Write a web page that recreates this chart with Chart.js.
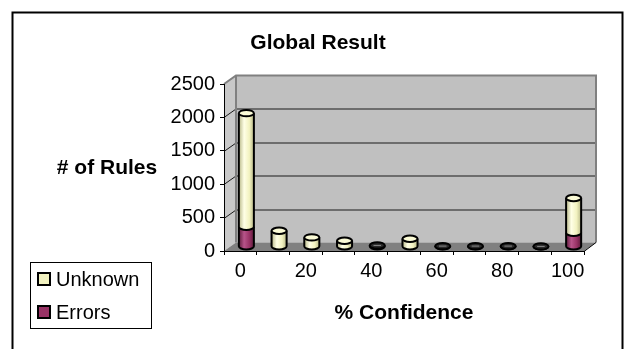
<!DOCTYPE html>
<html>
<head>
<meta charset="utf-8">
<script src="https://cdn.jsdelivr.net/npm/chart.js@4.4.1/dist/chart.umd.min.js"></script>
<style>
  html, body { margin: 0; padding: 0; background: #fff; }
  #wrap { width: 625px; height: 349px; }
</style>
</head>
<body>
<div id="wrap"><canvas id="c" width="625" height="349"></canvas></div>
<script>
// Confidence buckets (%) and rule counts per bucket
const categories = ['0', '10', '20', '30', '40', '50', '60', '70', '80', '90', '100'];
const errors  = [300, 0, 0, 0, 0, 0, 0, 0, 0, 0, 210];
const unknown = [1700, 240, 140, 90, 20, 120, 10, 10, 10, 5, 520];
const shownXLabels = ['0', '20', '40', '60', '80', '100'];
const yMin = 0, yMax = 2500, yStep = 500;

const FONT = '"Liberation Sans", Arial, Helvetica, sans-serif';
// depth of the 3D box (back wall offset from the front plane)
const DEPTH_X = 12, DEPTH_Y = -8.5;

const palette = {
  unknown: { base: '#f2f2c0', light: '#ffffe6', dark: '#b8b888', cap: '#fbfbd6' },
  errors:  { base: '#993366', light: '#b8548a', dark: '#5e1c3c', cap: '#a84474' }
};

// white page, outer frame, and the 3D walls/floor with gridlines
const backdrop = {
  id: 'backdrop',
  beforeDraw(chart) {
    const ctx = chart.ctx;
    const a = chart.chartArea;
    const ys = chart.scales.y;
    ctx.save();
    ctx.fillStyle = '#fff';
    ctx.fillRect(0, 0, chart.width, chart.height);
    ctx.strokeStyle = '#000';
    ctx.lineWidth = 2;
    ctx.strokeRect(12.5, 12.5, 610, 360);

    const L = a.left, R = a.right, T = a.top, B = a.bottom;
    // back wall
    ctx.fillStyle = '#c0c0c0';
    ctx.fillRect(L + DEPTH_X, T + DEPTH_Y, R - L, B - T);
    // side wall
    ctx.fillStyle = '#c8c8c8';
    ctx.beginPath();
    ctx.moveTo(L, T); ctx.lineTo(L + DEPTH_X, T + DEPTH_Y);
    ctx.lineTo(L + DEPTH_X, B + DEPTH_Y); ctx.lineTo(L, B);
    ctx.closePath(); ctx.fill();
    // floor
    ctx.fillStyle = '#808080';
    ctx.beginPath();
    ctx.moveTo(L, B); ctx.lineTo(L + DEPTH_X, B + DEPTH_Y);
    ctx.lineTo(R + DEPTH_X, B + DEPTH_Y); ctx.lineTo(R, B);
    ctx.closePath(); ctx.fill();

    // gridlines on back and side walls
    ctx.strokeStyle = '#1a1a1a';
    ctx.lineWidth = 1;
    for (let v = yMin + yStep; v < yMax; v += yStep) {
      const y = Math.round(ys.getPixelForValue(v)) + 0.5;
      ctx.beginPath();
      ctx.moveTo(L, y);
      ctx.lineTo(L + DEPTH_X, y + DEPTH_Y);
      ctx.lineTo(R + DEPTH_X, y + DEPTH_Y);
      ctx.stroke();
    }
    // wall edges
    ctx.strokeStyle = '#808080';
    ctx.lineWidth = 2;
    ctx.beginPath();
    ctx.moveTo(L, T); ctx.lineTo(L + DEPTH_X, T + DEPTH_Y);
    ctx.lineTo(R + DEPTH_X, T + DEPTH_Y); ctx.lineTo(R + DEPTH_X, B + DEPTH_Y);
    ctx.moveTo(L + DEPTH_X, T + DEPTH_Y); ctx.lineTo(L + DEPTH_X, B + DEPTH_Y);
    ctx.stroke();
    ctx.strokeStyle = '#000';
    ctx.lineWidth = 1;
    ctx.beginPath();
    ctx.moveTo(R, B + 0.5); ctx.lineTo(R + DEPTH_X, B + DEPTH_Y);
    ctx.stroke();
    ctx.restore();
  }
};

function drawCylinder(ctx, cx, yTop, yBot, w, col, withTop) {
  const rx = w / 2, ry = 3.2;
  const left = cx - rx, right = cx + rx;
  const g = ctx.createLinearGradient(left, 0, right, 0);
  g.addColorStop(0, col.dark);
  g.addColorStop(0.35, col.light);
  g.addColorStop(0.7, col.base);
  g.addColorStop(1, col.dark);
  ctx.save();
  // body
  ctx.beginPath();
  ctx.moveTo(left, yTop);
  ctx.lineTo(left, yBot);
  ctx.ellipse(cx, yBot, rx, ry, 0, Math.PI, 0, true);
  ctx.lineTo(right, yTop);
  ctx.closePath();
  ctx.fillStyle = g;
  ctx.fill();
  ctx.strokeStyle = '#000';
  ctx.lineWidth = 2;
  ctx.beginPath();
  ctx.moveTo(left, yTop);
  ctx.lineTo(left, yBot);
  ctx.ellipse(cx, yBot, rx, ry, 0, Math.PI, 0, true);
  ctx.lineTo(right, yTop);
  ctx.stroke();
  if (withTop) {
    // very short cylinders close up into a dark ring
    const flat = (yBot - yTop) < ry * 1.2;
    ctx.beginPath();
    ctx.ellipse(cx, yTop, rx, ry, 0, 0, Math.PI * 2);
    ctx.fillStyle = flat ? '#2a2a2a' : col.cap;
    ctx.fill();
    ctx.stroke();
    if (flat) {
      ctx.strokeStyle = '#8a8a8a';
      ctx.lineWidth = 1;
      ctx.beginPath();
      ctx.moveTo(cx - rx * 0.5, yTop);
      ctx.lineTo(cx + rx * 0.5, yTop);
      ctx.stroke();
    }
  }
  ctx.restore();
}

// stacked bars rendered as cylinders, placed halfway into the box depth
const cylinders = {
  id: 'cylinders',
  afterDatasetsDraw(chart) {
    const ctx = chart.ctx;
    const m0 = chart.getDatasetMeta(0).data;
    const m1 = chart.getDatasetMeta(1).data;
    const ox = DEPTH_X / 2, oy = DEPTH_Y / 2;
    for (let i = 0; i < categories.length; i++) {
      const e = m0[i], u = m1[i];
      if (errors[i] > 0) {
        drawCylinder(ctx, e.x + ox, e.y + oy, e.base + oy, e.width, palette.errors, unknown[i] <= 0);
      }
      if (unknown[i] > 0) {
        drawCylinder(ctx, u.x + ox, u.y + oy, u.base + oy, u.width, palette.unknown, true);
      }
    }
  }
};

// title, axis titles and the boxed legend
const labelsLayer = {
  id: 'labelsLayer',
  afterDraw(chart) {
    const ctx = chart.ctx;
    ctx.save();
    ctx.fillStyle = '#000';
    ctx.textBaseline = 'middle';
    ctx.textAlign = 'center';
    ctx.font = 'bold 21px ' + FONT;
    ctx.fillText('Global Result', 318, 43);
    ctx.fillText('# of Rules', 107, 168);
    ctx.fillText('% Confidence', 404, 313);

    // legend
    ctx.strokeStyle = '#000';
    ctx.lineWidth = 1;
    ctx.strokeRect(30.5, 262.5, 121, 66);
    const items = [
      { text: 'Unknown', fill: palette.unknown.base, y: 279 },
      { text: 'Errors', fill: palette.errors.base, y: 312 }
    ];
    ctx.textAlign = 'left';
    ctx.font = '20px ' + FONT;
    items.forEach(it => {
      ctx.fillStyle = it.fill;
      ctx.fillRect(38, it.y - 6, 12, 12);
      ctx.lineWidth = 2;
      ctx.strokeRect(38, it.y - 6, 12, 12);
      ctx.fillStyle = '#000';
      ctx.fillText(it.text, 56, it.y + 1);
    });
    ctx.restore();
  }
};

new Chart(document.getElementById('c'), {
  type: 'bar',
  data: {
    labels: categories,
    datasets: [
      { label: 'Errors', data: errors, backgroundColor: 'rgba(0,0,0,0)', borderWidth: 0 },
      { label: 'Unknown', data: unknown, backgroundColor: 'rgba(0,0,0,0)', borderWidth: 0 }
    ]
  },
  options: {
    responsive: false,
    animation: false,
    events: [],
    layout: { padding: { top: 84, right: 41, left: 0, bottom: 0 } },
    datasets: { bar: { barPercentage: 0.46, categoryPercentage: 1 } },
    plugins: { legend: { display: false }, title: { display: false }, tooltip: { enabled: false } },
    scales: {
      x: {
        stacked: true,
        offset: true,
        afterFit(s) { s.height = 98; },
        grid: { display: true, drawOnChartArea: false, drawTicks: true, tickLength: 4, color: '#000', offset: true },
        border: { display: true, color: '#000', width: 1 },
        ticks: {
          autoSkip: false, maxRotation: 0, padding: 4, color: '#000',
          font: { family: FONT, size: 20 },
          callback(v, i) { const l = categories[i]; return shownXLabels.includes(l) ? l : ''; }
        }
      },
      y: {
        stacked: true,
        min: yMin, max: yMax,
        afterFit(s) { s.width = 224; },
        grid: { display: true, drawOnChartArea: false, drawTicks: true, tickLength: 4, color: '#000' },
        border: { display: true, color: '#000', width: 1 },
        ticks: {
          stepSize: yStep, padding: 5, color: '#000', font: { family: FONT, size: 20 },
          callback(v) { return String(v); }
        }
      }
    }
  },
  plugins: [backdrop, cylinders, labelsLayer]
});
</script>
</body>
</html>
